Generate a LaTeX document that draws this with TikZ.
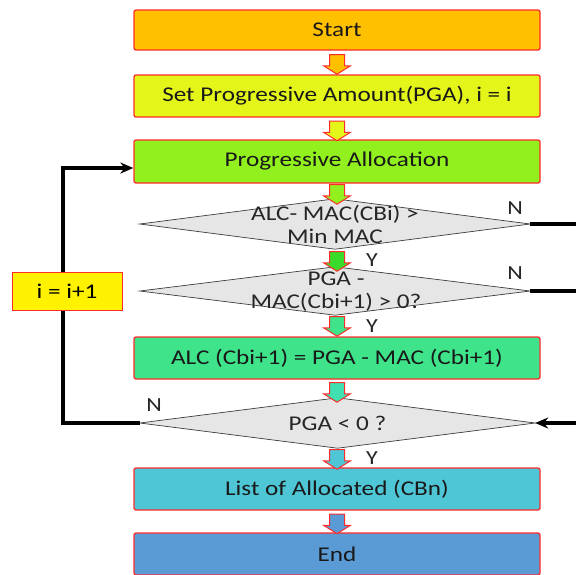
\documentclass[tikz,border=0pt]{standalone}
\usepackage{fontspec}
\setmainfont[FakeStretch=1.2]{Carlito}
\usepackage{tikz}
\usetikzlibrary{arrows.meta,shapes.arrows,positioning}
\usepackage{xcolor}
\definecolor{startc}{RGB}{255,192,0}
\definecolor{setc}{RGB}{228,245,26}
\definecolor{progc}{RGB}{146,240,30}
\definecolor{ync}{RGB}{58,220,44}
\definecolor{alcc}{RGB}{62,227,138}
\definecolor{tealc}{RGB}{64,224,176}
\definecolor{listc}{RGB}{79,198,214}
\definecolor{endc}{RGB}{91,155,213}
\definecolor{boxred}{RGB}{255,43,43}
\definecolor{diagrey}{RGB}{230,230,230}
\definecolor{diaedge}{RGB}{60,60,60}
\tikzstyle{stepbox} = [draw=boxred, line width=1.3pt, rounded corners=2pt, minimum width=406pt, minimum height=42pt, inner sep=0pt, text=black!90, font=\fontsize{21}{24}\selectfont]
\tikzstyle{incbox} = [draw=boxred, fill=yellow, line width=1pt, minimum width=110pt, minimum height=38pt, inner sep=0pt, font=\fontsize{21}{24}\selectfont]
\tikzstyle{flow} = [single arrow, draw=boxred, line width=1pt, shape border rotate=270, minimum width=26pt, minimum height=17pt, single arrow head extend=6pt, single arrow tip angle=116, inner sep=7pt]
\tikzstyle{decbox} = [minimum width=390pt, minimum height=50pt, inner sep=0pt]
\tikzstyle{decision} = [draw=diaedge, fill=diagrey, line width=0.7pt]
\tikzstyle{dtext} = [align=center, text=black!85, font=\fontsize{21}{23}\selectfont]
\tikzstyle{yn} = [text=black!85, font=\fontsize{20}{21}\selectfont]
\tikzstyle{wire} = [line width=3.3pt]
\tikzstyle{arrow} = [line width=3.3pt, -{Stealth[length=13pt,width=11pt]}]

\begin{document}
\begin{tikzpicture}[x=1pt, y=-1pt]
    \useasboundingbox (0,0) rectangle (576,574);

    % Process boxes
    \node[stepbox, fill=startc, minimum height=40pt] (start) at (337,30) {Start};
    \node[stepbox, fill=setc] (set) at (337,96) {Set Progressive Amount(PGA), i = i};
    \node[stepbox, fill=progc, minimum height=43pt] (pa) at (337,161.5) {Progressive Allocation};
    \node[stepbox, fill=alcc] (alc) at (337,358) {ALC (Cbi+1) = PGA - MAC (Cbi+1)};
    \node[stepbox, fill=listc] (list) at (337,489) {List of Allocated (CBn)};
    \node[stepbox, fill=endc, minimum height=42pt] (end) at (337,554) {End};

    % Decisions
    \node[decbox] (d1) at (335,224) {};
    \draw[decision] (d1.west) -- (d1.north) -- (d1.east) -- (d1.south) -- cycle;
    \node[dtext] (d1t) at (d1) {ALC- MAC(CBi) >\\Min MAC};

    \node[decbox, minimum height=48pt] (d2) at (335,291) {};
    \draw[decision] (d2.west) -- (d2.north) -- (d2.east) -- (d2.south) -- cycle;
    \node[dtext] (d2t) at (336,292) {PGA -\\MAC(Cbi+1) > 0?};

    \node[decbox, minimum width=395pt] (d3) at (337.5,423) {};
    \draw[decision] (d3.west) -- (d3.north) -- (d3.east) -- (d3.south) -- cycle;
    \node[dtext] (d3t) at (d3) {PGA < 0 ?};

    % Loop back
    \node[incbox] (inc) at (67,291) {i = i+1};
    \coordinate (c1) at (63,423);
    \coordinate (c2) at (63,168);
    \draw[wire] (d3.west) -- (c1) -- (c1 |- inc.south);
    \draw[arrow] (c1 |- inc.north) -- (c2) -- (pa.west |- c2);

    % Right side lines
    \coordinate (r1) at (578,224);
    \coordinate (r2) at (578,291);
    \coordinate (r3) at (578,423);
    \draw[wire] (d1.east) -- (r1);
    \draw[wire] (d2.east) -- (r2);
    \draw[arrow] (r3) -- (d3.east);

    % Block arrows
    \node[flow, fill=startc] (a1) at (337,62) {};
    \node[flow, fill=setc] (a2) at (337,128.5) {};
    \node[flow, fill=progc] (a3) at (337,192) {};
    \node[flow, fill=ync] (a4) at (337,259) {};
    \node[flow, fill=alcc] (a5) at (337,324) {};
    \node[flow, fill=tealc] (a6) at (337,390) {};
    \node[flow, fill=listc] (a7) at (337,457) {};
    \node[flow, fill=endc] (a8) at (337,521.5) {};

    % Labels
    \node[yn] (n1) at (515,208) {N};
    \node[yn] (y1) at (372,260) {Y};
    \node[yn] (n2) at (515,273) {N};
    \node[yn] (y2) at (372,326) {Y};
    \node[yn] (n3) at (154,405) {N};
    \node[yn] (y3) at (372,458) {Y};
\end{tikzpicture}
\end{document}
